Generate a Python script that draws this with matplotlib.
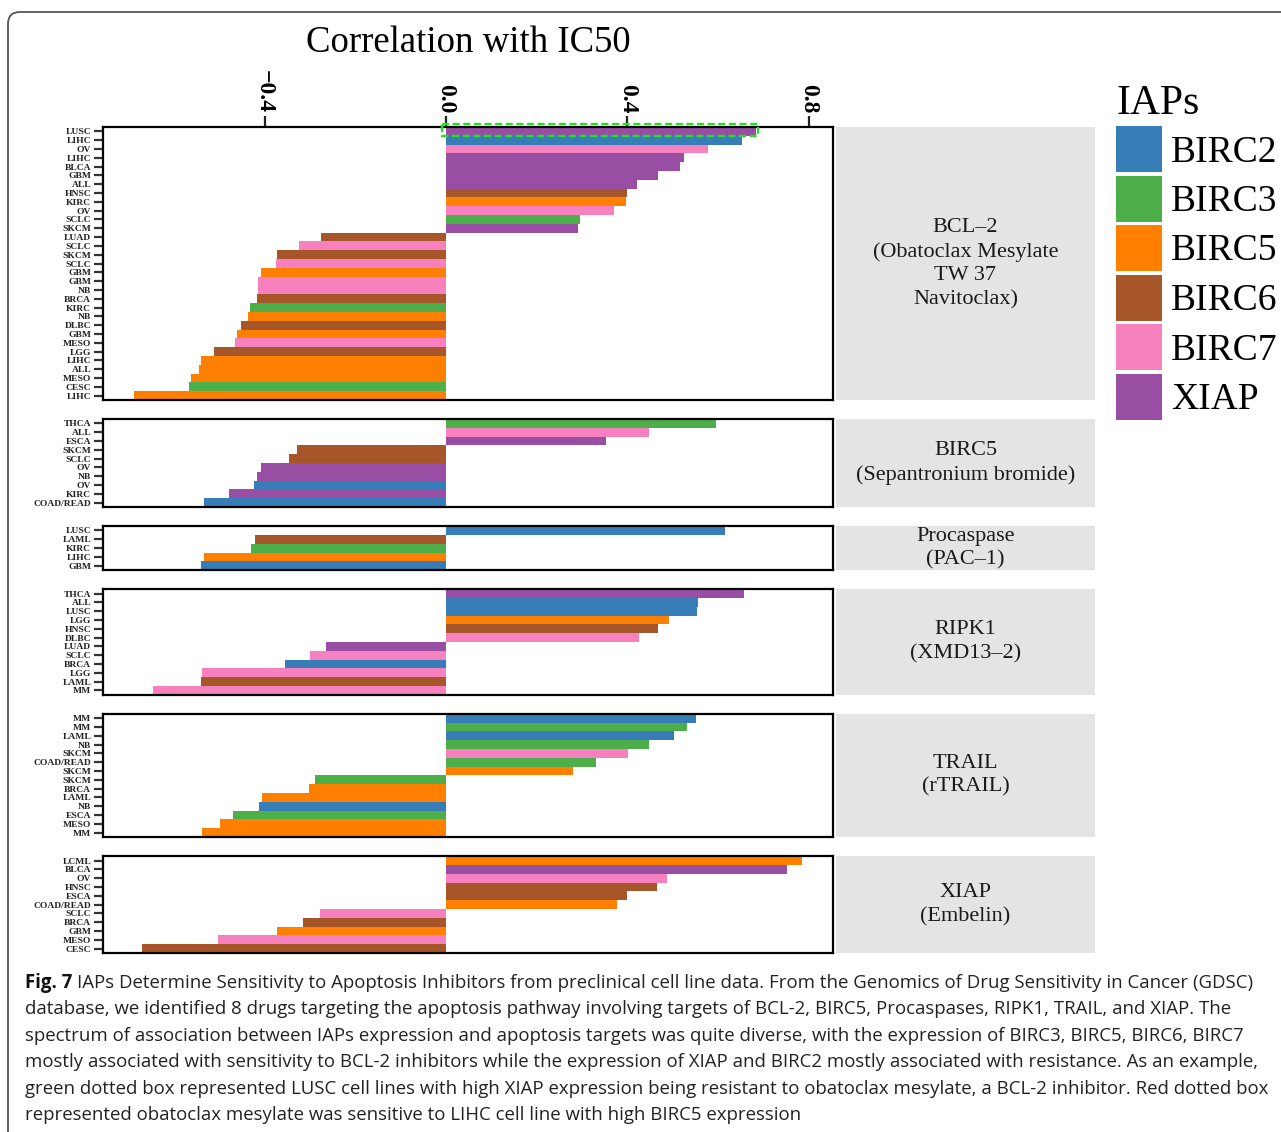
import numpy as np
import matplotlib.pyplot as plt
from matplotlib.patches import Patch, Rectangle, FancyBboxPatch
from matplotlib.transforms import IdentityTransform

plt.rcParams['font.family'] = 'serif'
plt.rcParams['font.serif'] = ['Liberation Serif', 'DejaVu Serif']

W, H = 1281, 1132

###############
# DATA
###############

iap_names = ["BIRC2", "BIRC3", "BIRC5", "BIRC6", "BIRC7", "XIAP"]
iap_colors = ["#377EB8", "#4DAF4A", "#FF7F00", "#A65628", "#F781BF", "#984EA3"]

# BCL-2 (Obatoclax Mesylate / TW 37 / Navitoclax)
bcl2_cells = ["LUSC", "LIHC", "OV", "LIHC", "BLCA", "GBM", "ALL", "HNSC", "KIRC", "OV",
              "SCLC", "SKCM", "LUAD", "SCLC", "SKCM", "SCLC", "GBM", "GBM", "NB", "BRCA",
              "KIRC", "NB", "DLBC", "GBM", "MESO", "LGG", "LIHC", "ALL", "MESO", "CESC", "LIHC"]
bcl2_iaps = ["XIAP", "BIRC2", "BIRC7", "XIAP", "XIAP", "XIAP", "XIAP", "BIRC6", "BIRC5", "BIRC7",
             "BIRC3", "XIAP", "BIRC6", "BIRC7", "BIRC6", "BIRC7", "BIRC5", "BIRC7", "BIRC7", "BIRC6",
             "BIRC3", "BIRC5", "BIRC6", "BIRC5", "BIRC7", "BIRC6", "BIRC5", "BIRC5", "BIRC5", "BIRC3", "BIRC5"]
bcl2_corr = [0.683, 0.653, 0.577, 0.525, 0.516, 0.467, 0.420, 0.398, 0.396, 0.370,
             0.295, 0.291, -0.275, -0.325, -0.372, -0.374, -0.408, -0.414, -0.414, -0.417,
             -0.433, -0.437, -0.452, -0.461, -0.466, -0.511, -0.540, -0.544, -0.563, -0.566, -0.688]

# BIRC5 (Sepantronium bromide)
birc5_cells = ["THCA", "ALL", "ESCA", "SKCM", "SCLC", "OV", "NB", "OV", "KIRC", "COAD/READ"]
birc5_iaps = ["BIRC3", "BIRC7", "XIAP", "BIRC6", "BIRC6", "XIAP", "XIAP", "BIRC2", "XIAP", "BIRC2"]
birc5_corr = [0.595, 0.447, 0.353, -0.328, -0.347, -0.407, -0.416, -0.424, -0.478, -0.533]

# Procaspase (PAC-1)
procasp_cells = ["LUSC", "LAML", "KIRC", "LIHC", "GBM"]
procasp_iaps = ["BIRC2", "BIRC6", "BIRC3", "BIRC5", "BIRC2"]
procasp_corr = [0.615, -0.420, -0.429, -0.533, -0.540]

# RIPK1 (XMD13-2)
ripk1_cells = ["THCA", "ALL", "LUSC", "LGG", "HNSC", "DLBC", "LUAD", "SCLC", "BRCA", "LGG", "LAML", "MM"]
ripk1_iaps = ["XIAP", "BIRC2", "BIRC2", "BIRC5", "BIRC6", "BIRC7", "XIAP", "BIRC7", "BIRC2", "BIRC7", "BIRC6", "BIRC7"]
ripk1_corr = [0.657, 0.555, 0.553, 0.491, 0.467, 0.425, -0.265, -0.300, -0.355, -0.537, -0.540, -0.645]

# TRAIL (rTRAIL)
trail_cells = ["MM", "MM", "LAML", "NB", "SKCM", "COAD/READ", "SKCM", "SKCM", "BRCA", "LAML",
               "NB", "ESCA", "MESO", "MM"]
trail_iaps = ["BIRC2", "BIRC3", "BIRC2", "BIRC3", "BIRC7", "BIRC3", "BIRC5", "BIRC3", "BIRC5", "BIRC5",
              "BIRC2", "BIRC3", "BIRC5", "BIRC5"]
trail_corr = [0.551, 0.531, 0.502, 0.447, 0.401, 0.331, 0.280, -0.289, -0.303, -0.405,
              -0.413, -0.470, -0.499, -0.538]

# XIAP (Embelin)
xiap_cells = ["LCML", "BLCA", "OV", "HNSC", "ESCA", "COAD/READ", "SCLC", "BRCA", "GBM", "MESO", "CESC"]
xiap_iaps = ["BIRC5", "XIAP", "BIRC7", "BIRC6", "BIRC6", "BIRC5", "BIRC7", "BIRC6", "BIRC5", "BIRC7", "BIRC6"]
xiap_corr = [0.785, 0.752, 0.487, 0.465, 0.399, 0.377, -0.278, -0.315, -0.372, -0.502, -0.671]

panel_titles = ["BCL\u20132\n(Obatoclax Mesylate\nTW 37\nNavitoclax)",
                "BIRC5\n(Sepantronium bromide)",
                "Procaspase\n(PAC\u20131)",
                "RIPK1\n(XMD13\u20132)",
                "TRAIL\n(rTRAIL)",
                "XIAP\n(Embelin)"]

x_ticks = [-0.4, 0.0, 0.4, 0.8]
x_ticklabels = ["\u22120.4", "0.0", "0.4", "0.8"]

caption_lines = [
    "IAPs Determine Sensitivity to Apoptosis Inhibitors from preclinical cell line data. From the Genomics of Drug Sensitivity in Cancer (GDSC)",
    "database, we identified 8 drugs targeting the apoptosis pathway involving targets of BCL-2, BIRC5, Procaspases, RIPK1, TRAIL, and XIAP. The",
    "spectrum of association between IAPs expression and apoptosis targets was quite diverse, with the expression of BIRC3, BIRC5, BIRC6, BIRC7",
    "mostly associated with sensitivity to BCL-2 inhibitors while the expression of XIAP and BIRC2 mostly associated with resistance. As an example,",
    "green dotted box represented LUSC cell lines with high XIAP expression being resistant to obatoclax mesylate, a BCL-2 inhibitor. Red dotted box",
    "represented obatoclax mesylate was sensitive to LIHC cell line with high BIRC5 expression",
]

panels = [
    (bcl2_cells, bcl2_iaps, bcl2_corr),
    (birc5_cells, birc5_iaps, birc5_corr),
    (procasp_cells, procasp_iaps, procasp_corr),
    (ripk1_cells, ripk1_iaps, ripk1_corr),
    (trail_cells, trail_iaps, trail_corr),
    (xiap_cells, xiap_iaps, xiap_corr),
]

###############
# LAYOUT
###############

color_of = dict(zip(iap_names, iap_colors))
x_lim = (-0.756, 0.853)
ax_left, ax_right = 103, 833
strip_left, strip_right = 836, 1095
top_px = 127
bar_px = 8.807
gap_px = 19


def fig_box(x0, x1, y0, y1):
    # pixel box (y from top) -> figure fraction rect
    return [x0 / W, 1 - y1 / H, (x1 - x0) / W, (y1 - y0) / H]


fig = plt.figure(figsize=(W / 100, H / 100), dpi=100)

y_cur = top_px
axes = []
for i, (cells, iaps, corr) in enumerate(panels):
    n = len(cells)
    y_end = y_cur + n * bar_px
    ax = fig.add_axes(fig_box(ax_left, ax_right, y_cur, y_end))
    pos = np.arange(n)
    ax.barh(pos, corr, height=1.0, color=[color_of[k] for k in iaps], linewidth=0)
    ax.set_ylim(n - 0.5, -0.5)
    ax.set_xlim(x_lim)
    ax.set_yticks(pos)
    ax.set_yticklabels(cells, fontsize=6.8, fontweight="bold", color="#222222")
    ax.tick_params(axis="y", length=6.5, width=1.6, color="#333333", pad=2)
    for sp in ax.spines.values():
        sp.set_linewidth(1.6)
        sp.set_color("black")
    if i == 0:
        ax.xaxis.tick_top()
        ax.set_xticks(x_ticks)
        ax.set_xticklabels(x_ticklabels, fontsize=17, fontweight="bold", rotation=-90)
        ax.tick_params(axis="x", length=8, width=1.6, color="#222222", pad=2)
    else:
        ax.set_xticks([])

    # strip on the right
    sax = fig.add_axes(fig_box(strip_left, strip_right, y_cur, y_end))
    sax.set_facecolor("#e4e4e4")
    sax.set_xticks([])
    sax.set_yticks([])
    for sp in sax.spines.values():
        sp.set_visible(False)
    sax.text(0.5, 0.5, panel_titles[i], ha="center", va="center", fontsize=16,
             color="#1a1a1a", linespacing=1.33, transform=sax.transAxes)

    axes.append(ax)
    y_cur = y_end + gap_px

# green dashed box around LUSC / XIAP in BCL-2 panel
axes[0].add_patch(Rectangle((-0.008, -0.81), bcl2_corr[0] + 0.012, 1.33, fill=False,
                            edgecolor="#22e022", linewidth=1.7, linestyle=(0, (3, 1.5)),
                            clip_on=False, zorder=5))

fig.text((ax_left + ax_right) / 2 / W, 1 - 43 / H, "Correlation with IC50",
         ha="center", va="center", fontsize=26.5)

handles = [Patch(facecolor=c, edgecolor="none", label=n) for n, c in zip(iap_names, iap_colors)]
leg = fig.legend(handles=handles, title="IAPs", loc="upper left",
                 bbox_to_anchor=(1116 / W, 1 - 84 / H), frameon=False,
                 prop={"size": 27}, title_fontsize=30, handlelength=1.22, handleheight=1.5,
                 labelspacing=0.1, handletextpad=0.25, borderpad=0, borderaxespad=0)
leg._legend_box.align = "left"

# caption
cap_font = ["Open Sans", "DejaVu Sans"]
cap_size = 13.4
line_y = [983, 1009, 1036, 1062, 1089, 1115]
renderer = fig.canvas.get_renderer()
t0 = fig.text(25 / W, 1 - line_y[0] / H, "Fig. 7", family=cap_font, fontsize=cap_size,
              fontweight="bold", va="center", ha="left", color="#111111")
bb = t0.get_window_extent(renderer=renderer)
for k, line in enumerate(caption_lines):
    x0 = 25 if k > 0 else bb.x1 + 5
    fig.text(x0 / W, 1 - line_y[k] / H, line, family=cap_font, fontsize=cap_size,
             va="center", ha="left", color="#222222")

# outer rounded border
border = FancyBboxPatch((8, -20), W + 20, H - 12 + 20, boxstyle="round,pad=0,rounding_size=12",
                        transform=IdentityTransform(), fill=False, edgecolor="#555555", linewidth=1.3)
fig.add_artist(border)

fig.savefig("out.png", dpi=100)
